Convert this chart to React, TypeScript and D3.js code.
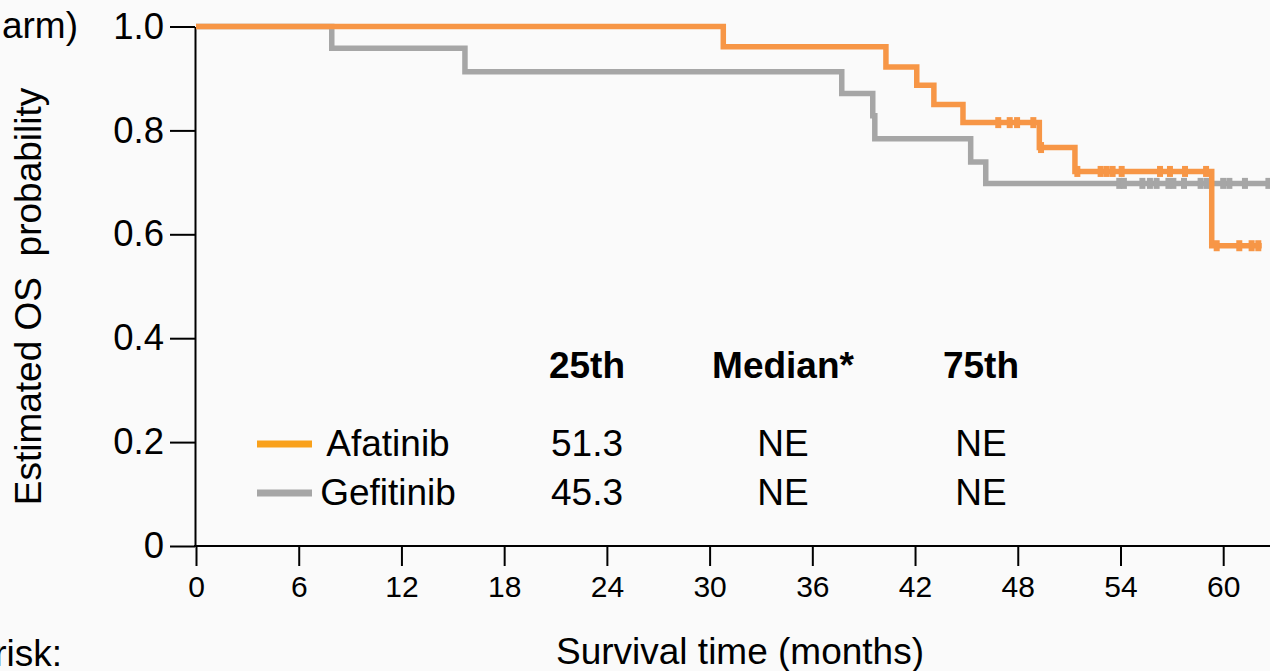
import React, { useEffect, useRef } from "react";
import * as d3 from "d3";

// Kaplan-Meier steps (months, survival)
const afatinibTimes = [0, 30.8, 40.3, 42.1, 43.1, 44.8, 49.26, 51.34, 59.33];
const afatinibSurv = [1, 0.961, 0.922, 0.887, 0.85, 0.815, 0.767, 0.721, 0.578];
const afatinibCensored = [46.86, 47.53, 47.96, 48.91, 49.36, 51.48, 52.84, 53.19, 53.54, 54.07, 56.31, 56.89, 57.77, 59.0, 59.62, 60.94, 61.66, 62.05];
const afatinibLastFollowUp = 62.25;

const gefitinibTimes = [0, 7.93, 15.71, 37.72, 39.53, 39.65, 45.25, 46.13];
const gefitinibSurv = [1, 0.958, 0.913, 0.871, 0.828, 0.784, 0.739, 0.698];
const gefitinibCensored = [53.93, 54.2, 55.28, 55.72, 56.11, 56.8, 57.09, 57.71, 58.68, 59.04, 60.0, 60.36, 61.27, 62.64];
const gefitinibLastFollowUp = 63.5;

const xTicks = [0, 6, 12, 18, 24, 30, 36, 42, 48, 54, 60];
const yTicks = [0, 0.2, 0.4, 0.6, 0.8, 1];

const tableHeaders = ["25th", "Median*", "75th"];
const afatinibRow = ["51.3", "NE", "NE"];
const gefitinibRow = ["45.3", "NE", "NE"];

const FONT = "'Liberation Sans', Arial, Helvetica, sans-serif";

const App = () => {
  const svgRef = useRef<SVGSVGElement>(null);

  useEffect(() => {
    const svg = d3.select(svgRef.current);
    svg.selectAll("*").remove();
    const width = 1270;
    const height = 671;

    const x = d3.scaleLinear().domain([0, 66]).range([196, 196 + 66 * 17.12]);
    const y = d3.scaleLinear().domain([0, 1]).range([546, 26.5]);

    svg.append("rect").attr("width", width).attr("height", height).attr("fill", "#fafafa");

    // axes
    const yAxis = svg.append("g")
      .attr("transform", "translate(195,0)")
      .call(
        d3.axisLeft(y)
          .tickValues(yTicks)
          .tickSize(25)
          .tickSizeOuter(0)
          .tickPadding(6)
          .tickFormat((d) => (+d === 0 ? "0" : (+d).toFixed(1)))
      );
    yAxis.selectAll("path, line").attr("stroke", "#000").attr("stroke-width", 2);
    yAxis.selectAll("text").attr("font-size", 36.5).attr("font-family", FONT).attr("fill", "#000");

    const xAxis = svg.append("g")
      .attr("transform", "translate(0,546)")
      .call(
        d3.axisBottom(x)
          .tickValues(xTicks)
          .tickSize(20)
          .tickSizeOuter(0)
          .tickPadding(10)
      );
    xAxis.select("path").attr("d", `M194,0H${width + 10}`);
    xAxis.selectAll("path, line").attr("stroke", "#000").attr("stroke-width", 2);
    xAxis.selectAll("text").attr("font-size", 30).attr("font-family", FONT).attr("fill", "#000");

    // curves
    const series = [
      { name: "Gefitinib", color: "#a6a6a6", times: gefitinibTimes, surv: gefitinibSurv, censored: gefitinibCensored, end: gefitinibLastFollowUp },
      { name: "Afatinib", color: "#f79646", times: afatinibTimes, surv: afatinibSurv, censored: afatinibCensored, end: afatinibLastFollowUp },
    ];
    const line = d3.line<[number, number]>()
      .x((d) => x(d[0]))
      .y((d) => y(d[1]))
      .curve(d3.curveStepAfter);

    series.forEach((s) => {
      const pts: [number, number][] = s.times.map((t, i) => [t, s.surv[i]]);
      pts.push([s.end, s.surv[s.surv.length - 1]]);
      const survAt = (t: number) => {
        let v = s.surv[0];
        s.times.forEach((tt, i) => { if (tt <= t) v = s.surv[i]; });
        return v;
      };
      svg.append("path")
        .attr("d", line(pts))
        .attr("fill", "none")
        .attr("stroke", s.color)
        .attr("stroke-width", 5.5);
      svg.append("g")
        .selectAll("rect")
        .data(s.censored)
        .join("rect")
        .attr("x", (d) => x(d) - 3)
        .attr("y", (d) => y(survAt(d)) - 5.5)
        .attr("width", 6)
        .attr("height", 11)
        .attr("fill", s.color);
    });

    // legend + quantile table
    const legend = [
      { name: "Afatinib", color: "#f9a11b", row: afatinibRow, yPos: 444 },
      { name: "Gefitinib", color: "#a6a6a6", row: gefitinibRow, yPos: 493 },
    ];
    const colX = [587, 783, 981];
    const text = (tx: number, ty: number, str: string, size = 37, anchor = "middle", weight = "normal") =>
      svg.append("text")
        .attr("x", tx)
        .attr("y", ty)
        .attr("font-family", FONT)
        .attr("font-size", size)
        .attr("font-weight", weight)
        .attr("text-anchor", anchor)
        .attr("fill", "#000")
        .text(str);

    tableHeaders.forEach((h, i) => text(colX[i], 378, h, 37, "middle", "bold"));
    legend.forEach((l) => {
      svg.append("line")
        .attr("x1", 257).attr("x2", 312)
        .attr("y1", l.yPos).attr("y2", l.yPos)
        .attr("stroke", l.color)
        .attr("stroke-width", 7);
      text(388, l.yPos + 12, l.name);
      l.row.forEach((v, i) => text(colX[i], l.yPos + 12, v));
    });

    // titles
    text(740, 664, "Survival time (months)");
    text(62, 666, "Number at risk:", 37, "end");
    text(78, 38, "Overall survival (by treatment arm)", 37, "end");
    text(0, 41, "Estimated OS  probability")
      .attr("transform", "rotate(-90)")
      .attr("x", -296.5)
      .style("white-space", "pre");
  }, []);

  return (
    <svg
      ref={svgRef}
      width={1270}
      height={671}
      style={{ position: "absolute", left: 0, top: 0, display: "block" }}
    ></svg>
  );
};

export default App;
